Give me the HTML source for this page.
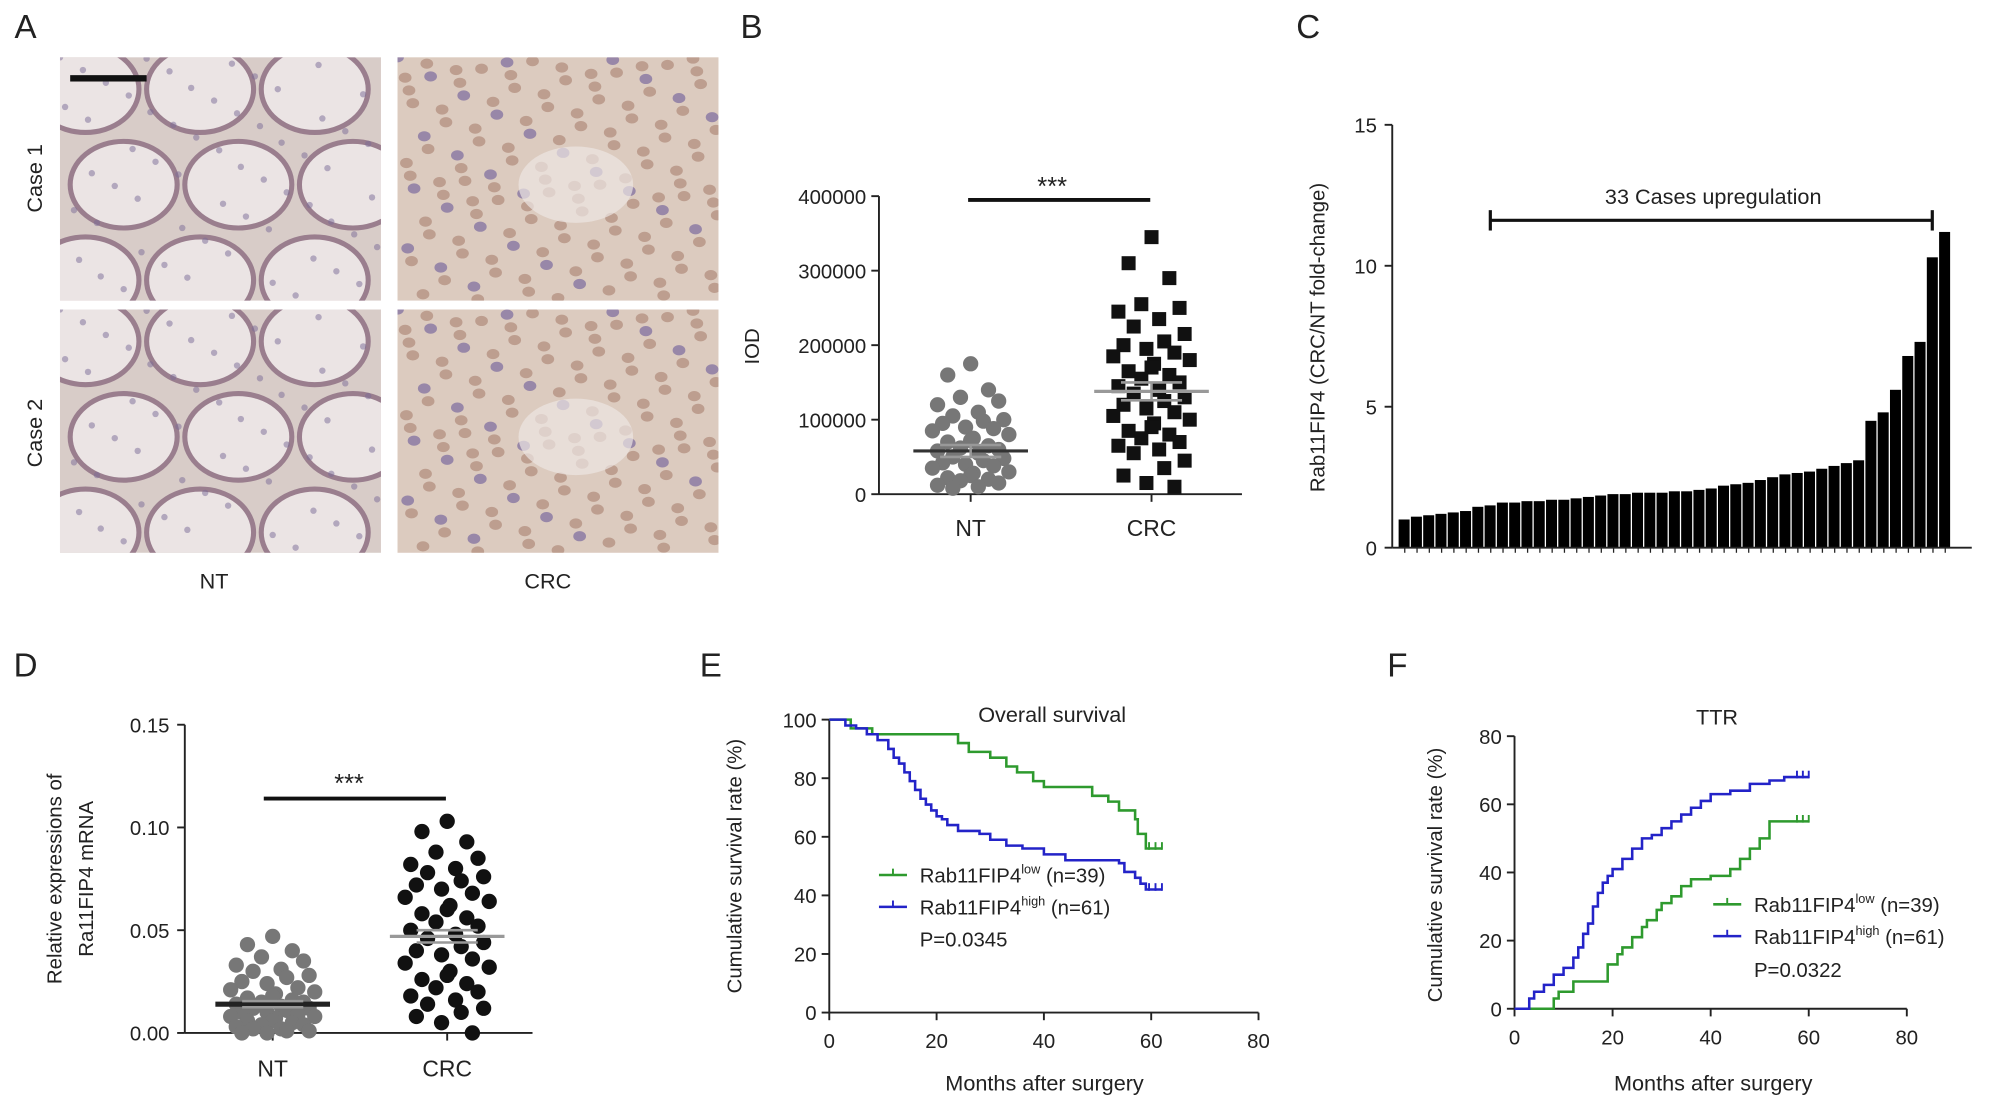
<!DOCTYPE html>
<html><head><meta charset="utf-8"><style>
html,body{margin:0;padding:0;background:#fff}
svg{display:block;font-family:"Liberation Sans",Arial,sans-serif}
</style></head><body>
<svg id="fig" width="1991" height="1103" viewBox="0 0 1563 866" xmlns="http://www.w3.org/2000/svg"></svg>
<script>
// ---------- data ----------
const bIodNT=[175000,160000,140000,130000,125000,120000,110000,105000,100000,98000,95000,90000,88000,85000,80000,75000,72000,70000,65000,62000,60000,58000,55000,50000,48000,45000,42000,40000,38000,35000,30000,28000,25000,22000,20000,18000,15000,12000,10000,8000];
const bIodCRC=[345000,310000,290000,255000,250000,245000,235000,225000,215000,205000,200000,195000,190000,185000,180000,175000,170000,165000,160000,155000,150000,145000,140000,135000,130000,125000,120000,115000,110000,105000,100000,95000,90000,85000,80000,75000,70000,65000,60000,55000,45000,35000,25000,15000,10000];
const bMeans=[58000,138000];
const bSem=[8000,12000];
const cFold=[1.0,1.1,1.15,1.2,1.25,1.3,1.45,1.5,1.6,1.6,1.65,1.65,1.7,1.7,1.75,1.8,1.85,1.9,1.9,1.95,1.95,1.95,2.0,2.0,2.05,2.1,2.2,2.25,2.3,2.4,2.5,2.6,2.65,2.7,2.8,2.9,3.0,3.1,4.5,4.8,5.6,6.8,7.3,10.3,11.2];
const dNT=[0.047,0.043,0.040,0.037,0.035,0.033,0.031,0.030,0.028,0.027,0.025,0.024,0.022,0.021,0.020,0.019,0.018,0.017,0.016,0.015,0.015,0.014,0.013,0.012,0.012,0.011,0.010,0.010,0.009,0.008,0.008,0.007,0.006,0.006,0.005,0.004,0.004,0.003,0.002,0.002,0.001,0.001,0.000,0.000];
const dCRC=[0.103,0.098,0.093,0.088,0.085,0.082,0.080,0.078,0.076,0.074,0.072,0.070,0.068,0.066,0.064,0.062,0.060,0.058,0.056,0.054,0.052,0.050,0.048,0.046,0.044,0.042,0.040,0.038,0.036,0.034,0.032,0.030,0.028,0.026,0.024,0.022,0.020,0.018,0.016,0.014,0.012,0.010,0.008,0.005,0.000];
const dMeans=[0.014,0.047];
const dSem=[0.0015,0.003];
const osLowT=[0,4,8,10,24,26,30,33,35,38,40,49,52,54,57,57.5,59,62];
const osLowV=[100,97,95,95,92,89,87,84,82,79,77,74,72,69,66,61,56,56];
const osHighT=[0,3,5,7,9,11,12,13,14,15,16,17,18,19,20,21,22,24,25,28,30,33,36,40,44,50,54,55,57,58,59,62];
const osHighV=[100,98,97,95,93,90,87,85,82,79,76,73,71,69,67,66,64,62,62,61,59,57,56,54,52,52,51,48,46,44,42,42];
const ttrLowT=[0,8,9,12,19,21,22,24,26,27,29,30,32,34,36,40,44,46,48,50,52,60];
const ttrLowV=[0,3,5,8,13,16,18,21,24,26,29,31,33,36,38,39,41,44,47,50,55,55];
const ttrHighT=[0,3,4,6,8,10,12,13,14,15,16,17,18,19,20,22,24,26,28,30,32,34,36,38,40,44,48,52,55,60];
const ttrHighV=[0,3,5,7,10,12,15,18,22,25,30,34,37,39,41,44,47,50,51,53,55,57,59,61,63,64,66,67,68,68];

const NS="http://www.w3.org/2000/svg";
const svg=document.getElementById('fig');
function el(tag,attrs,parent){const e=document.createElementNS(NS,tag);for(const k in attrs)e.setAttribute(k,attrs[k]);(parent||svg).appendChild(e);return e;}
function txt(s,x,y,size,anchor,parent,rot){const t=el('text',{x:x,y:y,'font-size':size,'text-anchor':anchor||'middle',fill:'#222'},parent);if(rot)t.setAttribute('transform','rotate(-90 '+x+' '+y+')');t.textContent=s;return t;}
function lin(x1,y1,x2,y2,c,w,p){return el('line',{x1:x1,y1:y1,x2:x2,y2:y2,stroke:c||'#222','stroke-width':w||1.5},p);}
function jit(i){const a=[0,-18,14,-8,22,-26,6,-14,26,10,-22,-4,18,-30,30,2];return a[i%a.length];}

[['A',20,30],['B',590,30],['C',1027,30],['D',20,531],['E',558,531],['F',1097,531]].forEach(a=>{const t=txt(a[0],a[1],a[2],26,'middle');});

// ---------- Panel A ----------
const gA=el('g',{});


const imgs=[[47,45,'nt'],[312,45,'crc'],[47,243,'nt'],[312,243,'crc']];
imgs.forEach((m,k)=>{
  const g=el('g',{},gA);
  
  
  const x=m[0],y=m[1],w=252,h=191;
  el('rect',{x:x,y:y,width:w,height:h,fill:m[2]=='nt'?'#d8ccc8':'#dccbbf'},g);
  el('clipPath',{id:'cp'+k},g).appendChild(el('rect',{x:x,y:y,width:w,height:h}));
  const c=el('g',{'clip-path':'url(#cp'+k+')'},g);
  if(m[2]=='nt'){
    for(let i=0;i<3;i++)for(let j=0;j<3;j++){
      el('ellipse',{cx:x+20+i*90+(j%2)*30,cy:y+25+j*75,rx:42,ry:34,fill:'#ebe4e4',stroke:'#9a7e8e','stroke-width':4},c);
    }
    for(let i=0;i<60;i++){el('circle',{cx:x+((i*71)%w),cy:y+((i*43)%h),r:2.5,fill:'#7a6a95',opacity:0.5},c);}
  }else{
    for(let i=0;i<140;i++){
      const px=x+((i*53)%w),py=y+((i*97)%h);
      el('ellipse',{cx:px,cy:py,rx:5,ry:4,fill:i%5==0?'#6a5a9a':'#a88070',opacity:0.6},c);
    }
    el('ellipse',{cx:x+140,cy:y+100,rx:45,ry:30,fill:'#ece6e2',opacity:0.7},c);
  }
});
el('rect',{x:55,y:59,width:60,height:5,fill:'#111'},gA);
txt('Case 1',33,140,17,'middle',gA,true);
txt('Case 2',33,340,17,'middle',gA,true);
txt('NT',168,462,17,'middle',gA);
txt('CRC',430,462,17,'middle',gA);

// ---------- Panel B ----------
const gB=el('g',{});


const bX0=690,bY0=388,bY1=154;
const byS=v=>bY0-(v/400000)*(bY0-bY1);
const bxC=[762,904];
lin(bX0,bY1,bX0,bY0,'#222',1.5,gB);lin(bX0,bY0,975,bY0,'#222',1.5,gB);
[0,100000,200000,300000,400000].forEach(v=>{lin(bX0-6,byS(v),bX0,byS(v),'#222',1.5,gB);txt(String(v),bX0-10,byS(v)+6,16,'end',gB);});
bxC.forEach(x=>lin(x,bY0,x,bY0+6,'#222',1.5,gB));
txt('NT',bxC[0],421,18,'middle',gB);txt('CRC',bxC[1],421,18,'middle',gB);
txt('IOD',596,272,16,'middle',gB,true);
lin(760,157,903,157,'#111',3,gB);txt('***',826,153,20,'middle',gB);
bIodNT.forEach((v,i)=>{const c=el('circle',{cx:bxC[0]+jit(i),cy:byS(v),r:6,fill:'#777'},gB);});
bIodCRC.forEach((v,i)=>{const r=el('rect',{x:bxC[1]+jit(i)-5.5,y:byS(v)-5.5,width:11,height:11,fill:'#111'},gB);});
bMeans.forEach((m,i)=>{const x=bxC[i];lin(x-45,byS(m),x+45,byS(m),i?'#999':'#333',2.5,gB);lin(x-24,byS(m+bSem[i]),x+24,byS(m+bSem[i]),'#999',2,gB);lin(x-24,byS(m-bSem[i]),x+24,byS(m-bSem[i]),'#999',2,gB);lin(x,byS(m-bSem[i]),x,byS(m+bSem[i]),'#999',2,gB);});

// ---------- Panel C ----------
const gC=el('g',{});


const cX0=1093,cY0=430,cY1=98,cXe=1548;
const cyS=v=>cY0-(v/15)*(cY0-cY1);
const bw=(1532-1098)/cFold.length;
cFold.forEach((v,i)=>{const r=el('rect',{x:1098+i*bw,y:cyS(v),width:bw-1,height:cY0-cyS(v),fill:'#000'},gC);lin(1098+i*bw+bw/2,cY0,1098+i*bw+bw/2,cY0+4,'#222',1,gC);});
lin(cX0,cY1,cX0,cY0,'#222',1.5,gC);lin(cX0,cY0,cXe,cY0,'#222',1.5,gC);
[0,5,10,15].forEach(v=>{lin(cX0-6,cyS(v),cX0,cyS(v),'#222',1.5,gC);txt(String(v),cX0-12,cyS(v)+6,16,'end',gC);});
txt('Rab11FIP4 (CRC/NT fold-change)',1040,265,16,'middle',gC,true);
lin(1170,173,1517,173,'#111',2.5,gC);lin(1170,165,1170,181,'#111',2.5,gC);lin(1517,165,1517,181,'#111',2.5,gC);
txt('33 Cases upregulation',1345,160,17,'middle',gC);

// ---------- Panel D ----------
const gD=el('g',{});


const dX0=145,dY0=811,dY1=569;
const dyS=v=>dY0-(v/0.15)*(dY0-dY1);
const dxC=[214,351];
lin(dX0,dY1,dX0,dY0,'#222',1.5,gD);lin(dX0,dY0,418,dY0,'#222',1.5,gD);
[0,0.05,0.10,0.15].forEach(v=>{lin(dX0-6,dyS(v),dX0,dyS(v),'#222',1.5,gD);txt(v.toFixed(2),dX0-12,dyS(v)+6,16,'end',gD);});
dxC.forEach(x=>lin(x,dY0,x,dY0+6,'#222',1.5,gD));
txt('NT',dxC[0],845,18,'middle',gD);txt('CRC',dxC[1],845,18,'middle',gD);
txt('Relative expressions of',48,690,16,'middle',gD,true);
txt('Ra11FIP4 mRNA',73,690,16,'middle',gD,true);
lin(207,627,350,627,'#111',3,gD);txt('***',274,622,20,'middle',gD);
dNT.forEach((v,i)=>{const c=el('circle',{cx:dxC[0]+jit(i)*1.1,cy:dyS(v),r:6,fill:'#777'},gD);});
dCRC.forEach((v,i)=>{const c=el('circle',{cx:dxC[1]+jit(i)*1.1,cy:dyS(v),r:6,fill:'#111'},gD);});
dMeans.forEach((m,i)=>{const x=dxC[i];lin(x-45,dyS(m),x+45,dyS(m),i?'#999':'#222',i?2.5:4,gD);lin(x-24,dyS(m+dSem[i]),x+24,dyS(m+dSem[i]),'#999',2,gD);lin(x-24,dyS(m-dSem[i]),x+24,dyS(m-dSem[i]),'#999',2,gD);});

// ---------- Survival panels ----------
function km(g,T,V,xs,ys,color,name){
  let d='M'+xs(T[0])+' '+ys(V[0]);
  for(let i=1;i<T.length;i++){d+=' H'+xs(T[i])+' V'+ys(V[i]);}
  const p=el('path',{d:d,fill:'none',stroke:color,'stroke-width':2},g);
  
  
  const last=T.length-1;
  for(let i=0;i<3;i++){const tx=T[last]-i*1.2;lin(xs(tx),ys(V[last])-5,xs(tx),ys(V[last])+1,color,1.5,g);}
}
function axesKM(g,x0,x1,y0,y1,ymax,yticks){
  const xs=t=>x0+(t/80)*(x1-x0), ys=v=>y0-(v/ymax)*(y0-y1);
  lin(x0,y1,x0,y0,'#222',1.5,g);lin(x0,y0,x1,y0,'#222',1.5,g);
  yticks.forEach(v=>{lin(x0-6,ys(v),x0,ys(v),'#222',1.5,g);txt(String(v),x0-10,ys(v)+6,16,'end',g);});
  [0,20,40,60,80].forEach(v=>{lin(xs(v),y0,xs(v),y0+6,'#222',1.5,g);txt(String(v),xs(v),y0+28,16,'middle',g);});
  return [xs,ys];
}
function legend(g,x,y,color,main,sup,rest){
  lin(x,y,x+22,y,color,2,g);lin(x+11,y-5,x+11,y,color,1.5,g);
  const t=el('text',{x:x+32,y:y+6,'font-size':16,fill:'#222'},g);
  t.appendChild(document.createTextNode(main));
  const s=el('tspan',{'font-size':10,dy:-7},t);s.textContent=sup;
  const r=el('tspan',{dy:7},t);r.textContent=' '+rest;
}
const gE=el('g',{});


let [exs,eys]=axesKM(gE,651,988,795,565,100,[0,20,40,60,80,100]);
txt('Overall survival',826,567,17,'middle',gE);
txt('Months after surgery',820,856,17,'middle',gE);
txt('Cumulative survival rate (%)',582,680,16,'middle',gE,true);
km(gE,osLowT,osLowV,exs,eys,'#2e9a2e','os-low-curve');
km(gE,osHighT,osHighV,exs,eys,'#2323c8','os-high-curve');
legend(gE,690,687,'#2e9a2e','Rab11FIP4','low','(n=39)');
legend(gE,690,712,'#2323c8','Rab11FIP4','high','(n=61)');
txt('P=0.0345',722,743,16,'start',gE);

const gF=el('g',{});


let [fxs,fys]=axesKM(gF,1189,1497,792,578,80,[0,20,40,60,80]);
txt('TTR',1348,569,17,'middle',gF);
txt('Months after surgery',1345,856,17,'middle',gF);
txt('Cumulative survival rate (%)',1132,687,16,'middle',gF,true);
km(gF,ttrLowT,ttrLowV,fxs,fys,'#2e9a2e','ttr-low-curve');
km(gF,ttrHighT,ttrHighV,fxs,fys,'#2323c8','ttr-high-curve');
legend(gF,1345,710,'#2e9a2e','Rab11FIP4','low','(n=39)');
legend(gF,1345,735,'#2323c8','Rab11FIP4','high','(n=61)');
txt('P=0.0322',1377,767,16,'start',gF);
</script>
</body></html>
